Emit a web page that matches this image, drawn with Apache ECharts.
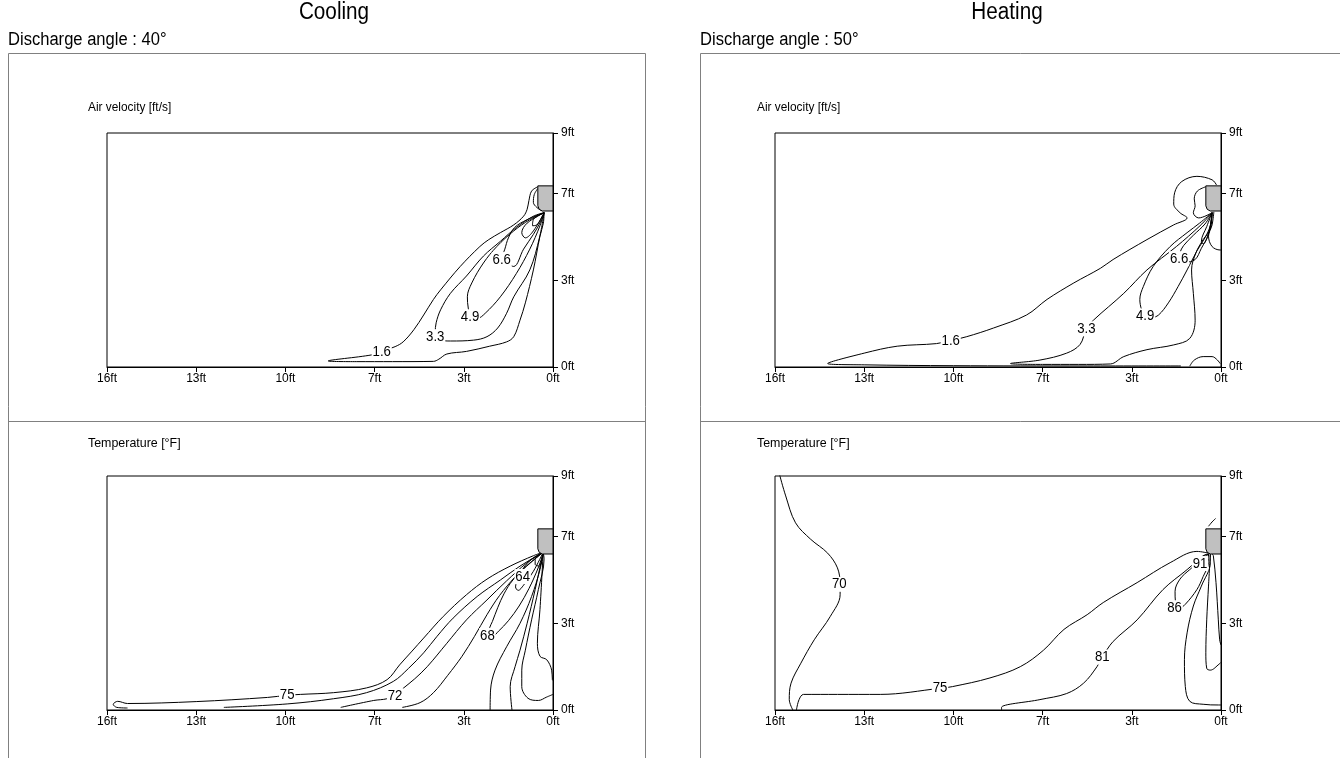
<!DOCTYPE html>
<html>
<head>
<meta charset="utf-8">
<script src="https://cdn.jsdelivr.net/npm/echarts@6/dist/echarts.min.js"></script>
<style>
  html, body { margin: 0; padding: 0; background: #fff; }
  #main { width: 1340px; height: 758px; }
</style>
</head>
<body>
<div id="main"></div>
<script>
// axis ticks (distances in metres, labelled in feet)
const xTickLabels = ['0ft', '3ft', '7ft', '10ft', '13ft', '16ft'];
const yTickValues = [0, 1, 2, 2.7];
const yTickLabels = ['0ft', '3ft', '7ft', '9ft'];

// indoor unit outline [x, y]
const unitShape = [[0.17, 2.09], [0, 2.09], [0, 1.80], [0.12, 1.80], [0.155, 1.82], [0.17, 1.86], [0.17, 2.09]];

// ---- Cooling, air velocity ----
const coolVel16 = [[0.10, 1.78], [0.108, 1.66], [0.146, 1.51], [0.22, 1.12], [0.31, 0.74], [0.37, 0.54], [0.44, 0.35], [0.52, 0.29], [0.71, 0.24], [0.97, 0.18], [1.19, 0.15], [1.28, 0.09], [1.34, 0.065], [1.8, 0.062], [2.2, 0.062], [2.52, 0.07], [2.03, 0.14], [1.92, 0.18], [1.77, 0.235], [1.68, 0.29], [1.56, 0.43], [1.45, 0.6], [1.34, 0.78], [1.26, 0.89], [1.04, 1.16], [0.82, 1.39], [0.72, 1.47], [0.59, 1.55], [0.44, 1.64], [0.33, 1.74], [0.29, 1.82], [0.27, 1.92], [0.24, 2.03], [0.17, 2.08]];
const coolVel33 = [[0.10, 1.78], [0.22, 1.74], [0.41, 1.61], [0.59, 1.45], [0.78, 1.28], [0.97, 1.05], [1.15, 0.85], [1.26, 0.66], [1.31, 0.51], [1.32, 0.40], [1.29, 0.32], [1.15, 0.30], [0.89, 0.31], [0.74, 0.35], [0.62, 0.45], [0.52, 0.62], [0.44, 0.81], [0.26, 1.12], [0.15, 1.50], [0.10, 1.78]];
const coolVel49 = [[0.10, 1.78], [0.26, 1.70], [0.44, 1.57], [0.63, 1.39], [0.78, 1.20], [0.91, 0.97], [0.96, 0.81], [0.95, 0.68], [0.92, 0.58], [0.85, 0.56], [0.76, 0.62], [0.59, 0.81], [0.41, 1.08], [0.26, 1.36], [0.146, 1.63], [0.10, 1.78]];
const coolVel66 = [[0.10, 1.78], [0.29, 1.70], [0.43, 1.61], [0.50, 1.49], [0.54, 1.36], [0.57, 1.26], [0.52, 1.20], [0.44, 1.16], [0.33, 1.36], [0.22, 1.53], [0.127, 1.70], [0.10, 1.78]];
const coolVel82 = [[0.10, 1.78], [0.29, 1.66], [0.35, 1.55], [0.31, 1.49], [0.22, 1.57], [0.10, 1.78]];
const coolVel98 = [[0.10, 1.78], [0.22, 1.70], [0.23, 1.63], [0.18, 1.64], [0.10, 1.78]];
const coolVelTop = [[0.17, 2.06], [0.21, 1.99], [0.22, 1.90], [0.18, 1.84], [0.12, 1.80]];
const coolVelLabels = [[1.92, 0.18, '1.6'], [1.32, 0.35, '3.3'], [0.93, 0.58, '4.9'], [0.575, 1.24, '6.6']];

// ---- Heating, air velocity ----
const heatVel16 = [[0.45, 0.012], [1.5, 0.012], [3.0, 0.015], [4.0, 0.025], [4.41, 0.04], [4.0, 0.16], [3.63, 0.24], [3.19, 0.27], [3.03, 0.305], [2.85, 0.35], [2.55, 0.45], [2.18, 0.60], [1.95, 0.78], [1.65, 0.97], [1.35, 1.14], [1.21, 1.24], [0.83, 1.47], [0.53, 1.64], [0.38, 1.72], [0.46, 1.78], [0.53, 1.88], [0.52, 2.01], [0.44, 2.14], [0.27, 2.20], [0.10, 2.16], [0.05, 2.10]];
const heatVel33 = [[0.10, 1.78], [0.235, 1.63], [0.50, 1.39], [0.83, 1.12], [1.09, 0.85], [1.43, 0.54], [1.51, 0.44], [1.58, 0.26], [1.73, 0.16], [2.03, 0.08], [2.36, 0.04], [2.0, 0.03], [1.6, 0.03], [1.24, 0.035], [1.09, 0.12], [0.83, 0.20], [0.53, 0.255], [0.35, 0.33], [0.29, 0.54], [0.31, 0.85], [0.33, 1.12], [0.28, 1.32], [0.20, 1.47], [0.12, 1.59], [0.10, 1.78]];
const heatVel49 = [[0.10, 1.78], [0.24, 1.66], [0.38, 1.55], [0.57, 1.39], [0.76, 1.16], [0.87, 0.93], [0.91, 0.78], [0.89, 0.66], [0.85, 0.59], [0.78, 0.57], [0.70, 0.60], [0.59, 0.74], [0.48, 0.93], [0.38, 1.12], [0.27, 1.34], [0.18, 1.49], [0.12, 1.63], [0.10, 1.78]];
const heatVel66 = [[0.10, 1.78], [0.18, 1.65], [0.31, 1.52], [0.42, 1.40], [0.46, 1.32], [0.47, 1.25], [0.40, 1.21], [0.29, 1.24], [0.22, 1.37], [0.14, 1.53], [0.10, 1.78]];
const heatVel82 = [[0.10, 1.78], [0.16, 1.62], [0.22, 1.45], [0.20, 1.42], [0.13, 1.58], [0.10, 1.78]];
const heatVelWall = [[0.08, 1.79], [0.10, 1.64], [0.14, 1.51], [0.10, 1.39], [0.01, 1.35], [0, 1.35]];
const heatVelHook = [[0.10, 1.78], [0.25, 1.72], [0.31, 1.78], [0.29, 1.86], [0.30, 1.94], [0.265, 2.03], [0.17, 2.08]];
const heatVelFloor = [[0.35, 0.01], [0.30, 0.08], [0.20, 0.12], [0.10, 0.12], [0.04, 0.08], [0.01, 0.04]];
const heatVelLabels = [[3.03, 0.305, '1.6'], [1.51, 0.44, '3.3'], [0.85, 0.59, '4.9'], [0.47, 1.25, '6.6']];

// ---- Cooling, temperature ----
const coolTmp75 = [[4.77, 0.023], [4.89, 0.03], [4.93, 0.065], [4.88, 0.10], [4.77, 0.075], [4.0, 0.097], [3.2, 0.145], [2.98, 0.17], [2.83, 0.18], [2.46, 0.20], [2.09, 0.255], [1.86, 0.35], [1.72, 0.52], [1.58, 0.68], [1.45, 0.83], [1.23, 1.08], [0.97, 1.33], [0.74, 1.51], [0.48, 1.66], [0.22, 1.78], [0.11, 1.82]];
const coolTmp73 = [[3.69, 0.03], [2.98, 0.07], [2.46, 0.13], [2.09, 0.20], [1.79, 0.33], [1.62, 0.48], [1.45, 0.66], [1.30, 0.85], [1.12, 1.06], [0.85, 1.31], [0.59, 1.50], [0.37, 1.66], [0.146, 1.80], [0.11, 1.82]];
const coolTmp72 = [[2.38, 0.03], [2.01, 0.11], [1.86, 0.13], [1.77, 0.17], [1.68, 0.25], [1.55, 0.36], [1.41, 0.50], [1.19, 0.77], [0.97, 1.04], [0.74, 1.27], [0.52, 1.49], [0.29, 1.70], [0.11, 1.82]];
const coolTmp70 = [[1.69, 0.03], [1.49, 0.085], [1.34, 0.20], [1.18, 0.40], [1.02, 0.62], [0.88, 0.85], [0.74, 1.10], [0.60, 1.32], [0.42, 1.54], [0.25, 1.70], [0.11, 1.82]];
const coolTmp68 = [[0.11, 1.82], [0.30, 1.66], [0.45, 1.50], [0.55, 1.34], [0.62, 1.18], [0.68, 1.02], [0.71, 0.95], [0.72, 0.87], [0.68, 0.85], [0.61, 0.91], [0.50, 1.03], [0.38, 1.20], [0.27, 1.40], [0.19, 1.58], [0.13, 1.74], [0.11, 1.82]];
const coolTmp64 = [[0.11, 1.82], [0.24, 1.74], [0.33, 1.64], [0.38, 1.54], [0.42, 1.42], [0.39, 1.38], [0.33, 1.44], [0.22, 1.60], [0.11, 1.82]];
const coolTmp62 = [[0.11, 1.82], [0.20, 1.74], [0.20, 1.68], [0.15, 1.66], [0.11, 1.82]];
const coolTmpR1 = [[0.705, 0.0], [0.70, 0.23], [0.65, 0.46], [0.52, 0.73], [0.37, 1.00], [0.24, 1.31], [0.146, 1.62], [0.11, 1.82]];
const coolTmpR2 = [[0.46, 0.0], [0.48, 0.27], [0.425, 0.50], [0.37, 0.69], [0.29, 1.00], [0.20, 1.39], [0.127, 1.74], [0.11, 1.82]];
const coolTmpR3 = [[0.11, 1.82], [0.146, 1.16], [0.175, 0.77], [0.146, 0.62], [0.07, 0.58], [0.015, 0.46], [0.007, 0.35], [0, 0.34]];
const coolTmpR4 = [[0.11, 1.82], [0.10, 1.74], [0.164, 1.39], [0.24, 1.04], [0.31, 0.69], [0.35, 0.46], [0.35, 0.27], [0.28, 0.135], [0.164, 0.11], [0.07, 0.15], [0, 0.18]];
const coolTmpLabels = [[2.98, 0.18, '75'], [1.77, 0.166, '72'], [0.735, 0.86, '68'], [0.34, 1.54, '64']];

// ---- Heating, temperature ----
const heatTmp70 = [[4.95, 2.72], [4.88, 2.47], [4.77, 2.16], [4.60, 1.97], [4.41, 1.81], [4.30, 1.64], [4.27, 1.45], [4.27, 1.33], [4.38, 1.08], [4.56, 0.81], [4.71, 0.54], [4.82, 0.31], [4.84, 0.12], [4.80, 0.0]];
const heatTmp75 = [[4.76, 0.0], [4.73, 0.12], [4.68, 0.18], [4.30, 0.18], [3.82, 0.18], [3.15, 0.25], [3.01, 0.27], [2.59, 0.37], [2.25, 0.50], [1.99, 0.69], [1.76, 0.93], [1.50, 1.10], [1.32, 1.24], [0.94, 1.47], [0.57, 1.70], [0.27, 1.83], [0.14, 1.81]];
const heatTmp81 = [[2.46, 0.0], [2.46, 0.03], [2.03, 0.12], [1.73, 0.19], [1.54, 0.31], [1.39, 0.50], [1.33, 0.61], [1.21, 0.79], [0.94, 1.04], [0.65, 1.39], [0.38, 1.62], [0.20, 1.78], [0.14, 1.80]];
const heatTmp86 = [[0.14, 1.80], [0.35, 1.62], [0.46, 1.51], [0.515, 1.37], [0.51, 1.24], [0.47, 1.17], [0.40, 1.22], [0.27, 1.39], [0.20, 1.54], [0.14, 1.70], [0.14, 1.80]];
const heatTmp91 = [[0.14, 1.80], [0.22, 1.76], [0.24, 1.69], [0.20, 1.64], [0.16, 1.70], [0.14, 1.80]];
const heatTmpW1 = [[0.12, 1.80], [0.12, 1.70], [0.22, 1.43], [0.31, 1.20], [0.38, 0.89], [0.41, 0.58], [0.40, 0.27], [0.35, 0.10], [0.20, 0.066], [0.03, 0.058], [0, 0.058]];
const heatTmpW2 = [[0.12, 1.80], [0.14, 1.43], [0.16, 1.04], [0.17, 0.66], [0.16, 0.48], [0.12, 0.46], [0.02, 0.53], [0, 0.55]];
const heatTmpW3 = [[0.10, 1.80], [0.086, 1.78], [0.056, 1.47], [0.03, 1.04], [0.015, 0.81], [0, 0.75]];
const heatTmpTop = [[0.14, 2.12], [0.10, 2.17], [0.06, 2.21]];
const heatTmpLabels = [[4.28, 1.45, '70'], [3.15, 0.25, '75'], [1.33, 0.61, '81'], [0.52, 1.18, '86'], [0.235, 1.69, '91']];

const panels = [
  { lines: [coolVel16, coolVel33, coolVel49, coolVel66, coolVel82, coolVel98, coolVelTop], labels: coolVelLabels },
  { lines: [heatVel16, heatVel33, heatVel49, heatVel66, heatVel82, heatVelWall, heatVelHook, heatVelFloor], labels: heatVelLabels },
  { lines: [coolTmp75, coolTmp73, coolTmp72, coolTmp70, coolTmp68, coolTmp64, coolTmp62, coolTmpR1, coolTmpR2, coolTmpR3, coolTmpR4], labels: coolTmpLabels },
  { lines: [heatTmp70, heatTmp75, heatTmp81, heatTmp86, heatTmp91, heatTmpW1, heatTmpW2, heatTmpW3, heatTmpTop], labels: heatTmpLabels }
];

const FONT = "'Liberation Sans Narrow', 'Arial Narrow', 'Liberation Sans', Arial, sans-serif";
const gridPos = [
  { left: 107, top: 133, width: 446, height: 234 },
  { left: 775, top: 133, width: 446, height: 234 },
  { left: 107, top: 476, width: 446, height: 234 },
  { left: 775, top: 476, width: 446, height: 234 }
];

let grids = [], xAxes = [], yAxes = [], series = [];
gridPos.forEach((g, i) => {
  grids.push(Object.assign({ show: true, borderColor: '#000', borderWidth: 1, backgroundColor: '#fff' }, g));
  xAxes.push({
    gridIndex: i, type: 'value', min: 0, max: 5, interval: 1, inverse: true,
    axisLine: { lineStyle: { color: '#000', width: 1 } },
    axisTick: { length: 5, lineStyle: { color: '#000' } },
    axisLabel: { color: '#000', fontSize: 12, fontFamily: FONT, margin: 6,
      formatter: v => xTickLabels[Math.round(v)] },
    splitLine: { show: false }
  });
  yAxes.push({
    gridIndex: i, type: 'value', position: 'right', min: 0, max: 2.7,
    axisLine: { show: true, lineStyle: { color: '#000', width: 1 } },
    axisTick: { show: true, length: 5, customValues: yTickValues, lineStyle: { color: '#000' } },
    axisLabel: { color: '#000', fontSize: 12, fontFamily: FONT, margin: 8, customValues: yTickValues,
      formatter: v => yTickLabels[yTickValues.findIndex(t => Math.abs(t - v) < 1e-6)] },
    splitLine: { show: false }
  });

  panels[i].lines.forEach(pts => {
    series.push({
      type: 'line', xAxisIndex: i, yAxisIndex: i, data: pts,
      symbol: 'none', smooth: 0.35, silent: true, z: 2,
      lineStyle: { color: '#000', width: 1 }
    });
  });

  // contour value labels, on a white patch that breaks the line
  series.push({
    type: 'custom', xAxisIndex: i, yAxisIndex: i, data: panels[i].labels, silent: true, z: 4,
    renderItem: (params, api) => {
      const p = api.coord([api.value(0), api.value(1)]);
      return {
        type: 'text', x: p[0], y: p[1], scaleX: 0.88,
        style: { text: panels[i].labels[params.dataIndex][2], fill: '#000', font: '15px ' + FONT,
          textAlign: 'center', textVerticalAlign: 'middle', backgroundColor: '#fff', padding: [0, 1] }
      };
    }
  });

  series.push({
    type: 'custom', xAxisIndex: i, yAxisIndex: i, data: [[0, 0]], silent: true, z: 5,
    renderItem: (params, api) => ({
      type: 'polygon',
      shape: { points: unitShape.map(p => api.coord(p)) },
      style: { fill: '#c0c0c0', stroke: '#000', lineWidth: 1 }
    })
  });
});

const boxStyle = { fill: 'none', stroke: '#808080', lineWidth: 1 };
function txt(x, y, text, size, align, sx) {
  return { type: 'text', x: x, y: y, scaleX: sx || 1, silent: true,
    style: { text: text, fill: '#000', font: size + 'px ' + FONT, textAlign: align || 'left', textVerticalAlign: 'middle' } };
}

const chart = echarts.init(document.getElementById('main'));
chart.setOption({
  animation: false,
  backgroundColor: '#fff',
  graphic: [
    { type: 'rect', shape: { x: 8.5, y: 53.5, width: 637, height: 760 }, style: boxStyle, silent: true },
    { type: 'line', shape: { x1: 8.5, y1: 421.5, x2: 645.5, y2: 421.5 }, style: boxStyle, silent: true },
    { type: 'rect', shape: { x: 700.5, y: 53.5, width: 700, height: 760 }, style: boxStyle, silent: true },
    { type: 'line', shape: { x1: 700.5, y1: 421.5, x2: 1400, y2: 421.5 }, style: boxStyle, silent: true },
    txt(334, 13, 'Cooling', 23, 'center', 0.9),
    txt(1007, 13, 'Heating', 23, 'center', 0.9),
    txt(8, 40, 'Discharge angle : 40°', 18, 'left', 0.92),
    txt(700, 40, 'Discharge angle : 50°', 18, 'left', 0.92),
    txt(88, 107, 'Air velocity [ft/s]', 13.5, 'left', 0.88),
    txt(757, 107, 'Air velocity [ft/s]', 13.5, 'left', 0.88),
    txt(88, 443, 'Temperature [°F]', 13.5, 'left', 0.92),
    txt(757, 443, 'Temperature [°F]', 13.5, 'left', 0.92)
  ],
  grid: grids,
  xAxis: xAxes,
  yAxis: yAxes,
  series: series
});
</script>
</body>
</html>
